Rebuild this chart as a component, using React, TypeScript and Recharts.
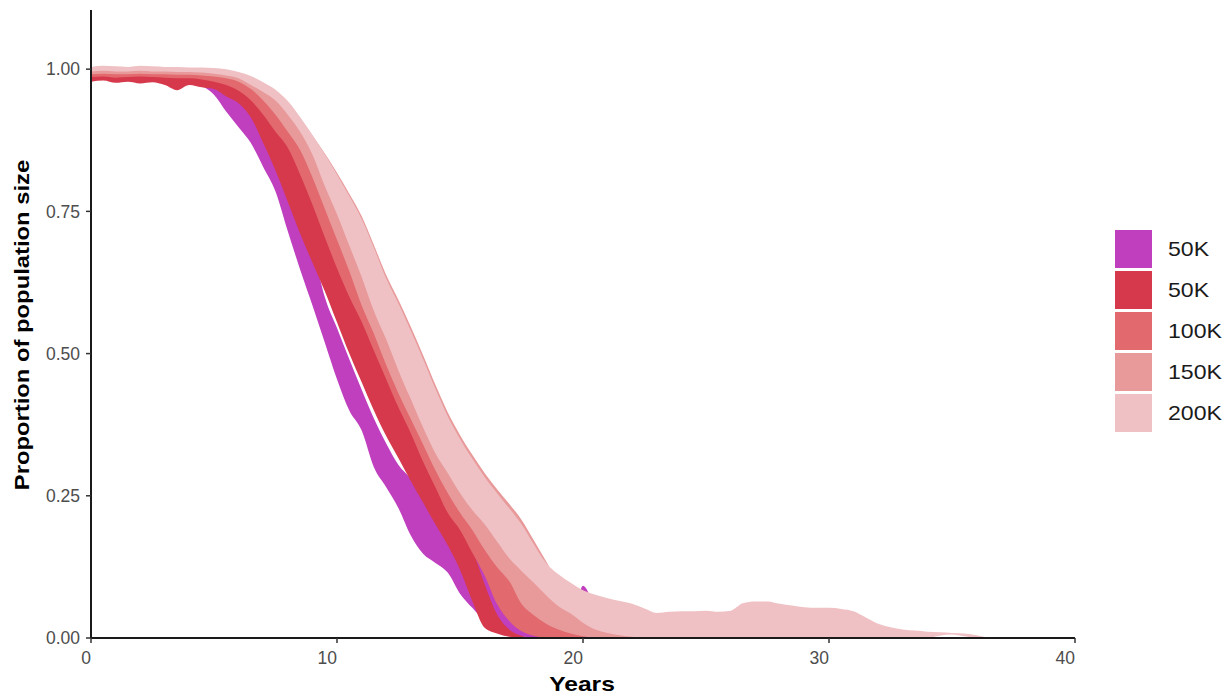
import React from 'react';
import { ComposedChart, Area, XAxis, YAxis } from 'recharts';

const years = [
  0, 0.5, 1, 1.5, 2, 2.5, 3, 3.5, 4, 4.5, 5, 5.5, 6, 6.5, 7, 7.5, 8, 8.5, 9, 9.5,
  10, 10.5, 11, 11.5, 12, 12.5, 13, 13.5, 14, 14.5, 15, 15.5, 16, 16.5, 17, 17.5, 18, 18.5, 19, 19.5,
  20, 20.5, 21, 21.5, 22, 22.5, 23, 23.5, 24, 24.5, 25, 25.5, 26, 26.5, 27, 27.5, 28, 28.5, 29, 29.5,
  30, 30.5, 31, 31.5, 32, 32.5, 33, 33.5, 34, 34.5, 35, 35.5, 36, 36.5,
];

// 50K (purple)
const purpleLow = [
  0.98, 0.983, 0.979, 0.981, 0.977, 0.98, 0.975, 0.967, 0.974, 0.97, 0.955, 0.925, 0.898, 0.87, 0.828, 0.785, 0.715, 0.648, 0.585, 0.52,
  0.455, 0.4, 0.365, 0.3, 0.265, 0.228, 0.18, 0.148, 0.132, 0.115, 0.078, 0.053, 0.03, 0.012, 0.006, 0.002, 0.001, 0,
];
const purpleHigh = [
  0.99, 0.991, 0.99, 0.99, 0.991, 0.99, 0.989, 0.988, 0.988, 0.986, 0.982, 0.972, 0.955, 0.93, 0.895, 0.855, 0.81, 0.755, 0.69, 0.6,
  0.545, 0.49, 0.437, 0.386, 0.342, 0.304, 0.28, 0.25, 0.22, 0.195, 0.18, 0.16, 0.12, 0.07, 0.035, 0.02, 0.012, 0.008, 0.006, 0.012,
  0.092, 0.05, 0,
];

// 50K (red)
const redLow = [
  0.978, 0.98, 0.976, 0.978, 0.975, 0.977, 0.972, 0.963, 0.972, 0.968, 0.965, 0.952, 0.94, 0.915, 0.87, 0.822, 0.767, 0.711, 0.66, 0.61,
  0.555, 0.5, 0.45, 0.4, 0.355, 0.316, 0.276, 0.238, 0.2, 0.163, 0.12, 0.065, 0.018, 0.008, 0.002, 0,
];
const redHigh = [
  0.991, 0.992, 0.991, 0.991, 0.992, 0.991, 0.99, 0.989, 0.989, 0.987, 0.984, 0.978, 0.97, 0.955, 0.935, 0.905, 0.875, 0.835, 0.785, 0.73,
  0.675, 0.62, 0.565, 0.515, 0.465, 0.415, 0.37, 0.322, 0.278, 0.235, 0.195, 0.155, 0.095, 0.042, 0.015, 0.004, 0,
];

// 100K
const k100Low = [
  0.986, 0.987, 0.985, 0.986, 0.987, 0.986, 0.985, 0.984, 0.984, 0.982, 0.978, 0.972, 0.962, 0.945, 0.92, 0.89, 0.862, 0.815, 0.762, 0.705,
  0.65, 0.6, 0.556, 0.505, 0.455, 0.405, 0.36, 0.31, 0.265, 0.22, 0.19, 0.15, 0.11, 0.06, 0.03, 0.012, 0.004, 0,
];
const k100High = [
  0.994, 0.995, 0.994, 0.994, 0.995, 0.994, 0.994, 0.993, 0.993, 0.991, 0.989, 0.987, 0.983, 0.975, 0.96, 0.94, 0.915, 0.885, 0.845, 0.795,
  0.74, 0.68, 0.625, 0.57, 0.515, 0.465, 0.415, 0.37, 0.325, 0.285, 0.245, 0.205, 0.17, 0.14, 0.11, 0.075, 0.05, 0.032, 0.02, 0.012,
  0.004, 0,
];

// 150K
const k150Low = [
  0.991, 0.992, 0.991, 0.991, 0.992, 0.991, 0.991, 0.99, 0.99, 0.989, 0.987, 0.984, 0.978, 0.965, 0.945, 0.92, 0.89, 0.858, 0.81, 0.755,
  0.7, 0.645, 0.585, 0.535, 0.48, 0.43, 0.385, 0.34, 0.295, 0.255, 0.22, 0.19, 0.155, 0.125, 0.1, 0.06, 0.04, 0.025, 0.015, 0.008,
  0.003, 0,
];
const k150High = [
  0.999, 1.0, 0.999, 0.999, 1.0, 0.999, 0.999, 0.998, 0.998, 0.997, 0.995, 0.993, 0.99, 0.982, 0.972, 0.958, 0.94, 0.914, 0.884, 0.852,
  0.818, 0.781, 0.742, 0.691, 0.638, 0.594, 0.547, 0.497, 0.445, 0.397, 0.357, 0.322, 0.29, 0.262, 0.236, 0.208, 0.172, 0.135, 0.1, 0.075,
  0.05, 0.035, 0.022, 0.012, 0.004, 0,
];

// 200K
const k200Low = [
  0.996, 0.997, 0.996, 0.996, 0.997, 0.996, 0.996, 0.995, 0.995, 0.994, 0.992, 0.989, 0.984, 0.972, 0.96, 0.945, 0.92, 0.89, 0.85, 0.795,
  0.745, 0.69, 0.635, 0.575, 0.525, 0.47, 0.42, 0.37, 0.325, 0.29, 0.255, 0.225, 0.2, 0.17, 0.14, 0.118, 0.097, 0.075, 0.056, 0.043,
  0.027, 0.015, 0.009, 0.005, 0.002, 0, 0, 0, 0, 0, 0, 0, 0, 0, 0, 0, 0, 0, 0, 0,
  0, 0, 0, 0, 0, 0, 0, 0, 0, 0.004, 0.006, 0.003, 0, 0,
];
const k200High = [
  1.004, 1.006, 1.005, 1.004, 1.006, 1.005, 1.004, 1.004, 1.003, 1.003, 1.002, 1.0, 0.995, 0.988, 0.977, 0.964, 0.944, 0.916, 0.884, 0.851,
  0.815, 0.777, 0.737, 0.686, 0.632, 0.588, 0.54, 0.49, 0.438, 0.39, 0.35, 0.315, 0.283, 0.255, 0.228, 0.2, 0.165, 0.132, 0.112, 0.097,
  0.084, 0.076, 0.07, 0.065, 0.06, 0.052, 0.044, 0.046, 0.047, 0.047, 0.048, 0.046, 0.048, 0.061, 0.064, 0.064, 0.06, 0.057, 0.054, 0.053,
  0.053, 0.051, 0.047, 0.036, 0.025, 0.019, 0.015, 0.013, 0.011, 0.01, 0.009, 0.008, 0.005, 0,
];

const seriesLabels = ['50K', '50K', '100K', '150K', '200K'];
const seriesColors = ['#BF3FBF', '#D6394B', '#E2696E', '#E89A9B', '#F0C1C4'];
const xTickValues = [0, 10, 20, 30, 40];
const yTickValues = [0, 0.25, 0.5, 0.75, 1.0];

const bands = [
  { key: 's0', lo: purpleLow, hi: purpleHigh },
  { key: 's1', lo: redLow, hi: redHigh },
  { key: 's2', lo: k100Low, hi: k100High },
  { key: 's3', lo: k150Low, hi: k150High },
  { key: 's4', lo: k200Low, hi: k200High },
];

const data = years.map((yr, i) => {
  const row: any = { year: yr };
  bands.forEach((b) => {
    row[b.key] = [b.lo[i] ?? 0, b.hi[i] ?? 0];
  });
  return row;
});

const FONT = '"Liberation Sans", Arial, Helvetica, sans-serif';

const XTick = (props: any) => {
  const { x, y, payload } = props;
  return (
    <text x={x} y={y} dy="0.71em" textAnchor="end" fill="#4d4d4d" fontSize={17.5} fontFamily={FONT}>
      {payload.value}
    </text>
  );
};

export default function App() {
  return (
    <div style={{ position: 'absolute', left: 0, top: 0, width: 1230, height: 698, background: '#fff', fontFamily: FONT }}>
      <ComposedChart width={1230} height={698} data={data} margin={{ top: 10, right: 155, bottom: 0, left: 0 }}>
        <XAxis
          type="number"
          dataKey="year"
          domain={[0, 40]}
          ticks={xTickValues}
          allowDataOverflow
          height={60}
          axisLine={{ stroke: '#1a1a1a', strokeWidth: 2 }}
          tickLine={{ stroke: '#333', strokeWidth: 1.5 }}
          tickSize={5}
          tickMargin={9}
          tick={<XTick />}
        />
        <YAxis
          type="number"
          domain={[0, 1.104]}
          ticks={yTickValues}
          allowDataOverflow
          width={91}
          tickFormatter={(v: number) => v.toFixed(2)}
          axisLine={{ stroke: '#1a1a1a', strokeWidth: 2 }}
          tickLine={{ stroke: '#333', strokeWidth: 1.5 }}
          tickSize={5}
          tickMargin={6}
          tick={{ fill: '#4d4d4d', fontSize: 17.5, fontFamily: FONT }}
        />
        {bands.map((b, i) => (
          <Area
            key={b.key}
            type="monotone"
            dataKey={b.key}
            stroke="none"
            fill={seriesColors[i]}
            fillOpacity={1}
            isAnimationActive={false}
            dot={false}
            activeDot={false}
          />
        ))}
      </ComposedChart>
      <div
        style={{
          position: 'absolute', left: 22, top: 325, transform: 'translate(-50%, -50%) rotate(-90deg) scaleX(1.16)',
          whiteSpace: 'nowrap', fontWeight: 'bold', fontSize: 20.5, color: '#000', lineHeight: 1,
        }}
      >
        Proportion of population size
      </div>
      <div
        style={{
          position: 'absolute', left: 582, top: 684, transform: 'translate(-50%, -50%) scaleX(1.2)',
          whiteSpace: 'nowrap', fontWeight: 'bold', fontSize: 20.5, color: '#000', lineHeight: 1,
        }}
      >
        Years
      </div>
      {seriesLabels.map((lab, i) => (
        <div key={i} style={{ position: 'absolute', left: 1115, top: 230 + i * 41, height: 38, display: 'flex', alignItems: 'center' }}>
          <div style={{ width: 37, height: 38, background: seriesColors[i] }} />
          <div style={{ marginLeft: 16, fontSize: 21, color: '#1a1a1a', transform: 'scaleX(1.1)', transformOrigin: 'left center' }}>{lab}</div>
        </div>
      ))}
    </div>
  );
}
